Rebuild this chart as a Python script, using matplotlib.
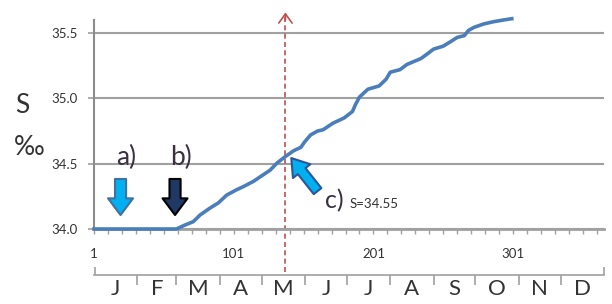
import matplotlib
matplotlib.use("Agg")
import matplotlib.pyplot as plt

plt.rcParams['font.family'] = ['Lato', 'DejaVu Sans']

# salinity curve (day of year, S in per mille)
days = [1, 60, 66, 72, 77, 84, 90, 96, 103, 108, 115, 120, 127, 132, 138, 144,
        149, 152, 156, 161, 165, 172, 180, 186, 188, 191, 197, 205, 210, 213,
        220, 225, 231, 235, 240, 244, 251, 256, 261, 266, 269, 273, 280, 287,
        294, 300]
sal = [34.0, 34.0, 34.03, 34.056, 34.108, 34.16, 34.2, 34.26, 34.3, 34.325,
       34.364, 34.4, 34.45, 34.505, 34.555, 34.6, 34.625, 34.67, 34.72, 34.75,
       34.76, 34.81, 34.85, 34.9, 34.95, 35.01, 35.07, 35.095, 35.146, 35.2,
       35.22, 35.26, 35.287, 35.305, 35.344, 35.377, 35.4, 35.433, 35.467,
       35.48, 35.52, 35.544, 35.57, 35.587, 35.6, 35.61]

yticks = [34.0, 34.5, 35.0, 35.5]
xticks = [1, 101, 201, 301]
months = ['J', 'F', 'M', 'A', 'M', 'J', 'J', 'A', 'S', 'O', 'N', 'D']
month_start = [1, 32, 60, 91, 121, 152, 182, 213, 244, 274, 305, 335, 366]

day_c = 138      # red dashed marker
s_c = 34.55

grey = '#a0a0a0'
txt = '#333333'

fig = plt.figure(figsize=(6.12, 3.04), dpi=100)
ax = fig.add_axes([94/612, 1-229/304, 510/612, 209/304])

ax.plot(days, sal, color='#4a7ebb', lw=2.6, clip_on=False, zorder=3)
ax.set_xlim(1, 366)
ax.set_ylim(34.0, 35.6)

ax.set_yticks(yticks)
ax.set_yticklabels(['%.1f' % v for v in yticks])
ax.set_xticks(xticks)
ax.set_xticks(range(11, 366, 10), minor=True)
ax.tick_params(axis='y', length=4, width=1.2, color=grey, pad=8, labelsize=9.5, labelcolor=txt)
ax.tick_params(axis='x', which='both', length=3.5, width=1, color=grey, pad=10, labelsize=9.5, labelcolor=txt)
ax.grid(axis='y', color=grey, lw=1.5)
for s in ['top', 'right']:
    ax.spines[s].set_visible(False)
ax.spines['left'].set_color('#8c8c8c')
ax.spines['left'].set_linewidth(1.5)
ax.spines['bottom'].set_color(grey)
ax.spines['bottom'].set_linewidth(2)

# red dashed line with open arrow head
trans = ax.get_xaxis_transform()
ax.plot([day_c, day_c], [-0.206, 1.02], transform=trans, color='#c0504d', lw=1.2,
        dashes=(3, 2), clip_on=False, zorder=2)
ax.annotate('', xy=(day_c, 1.036), xytext=(day_c, 1.0), xycoords=trans, textcoords=trans,
            arrowprops=dict(arrowstyle='->,head_length=0.55,head_width=0.4', mutation_scale=12,
                            color='#c0504d', lw=1.2, shrinkA=0, shrinkB=0),
            annotation_clip=False)

# block arrows
def block_arrow(tip, tail, fc, ec, hl=12, hw=18, tw=8):
    ax.annotate('', xy=tip, xytext=tail,
                arrowprops=dict(arrowstyle='simple,head_length=%g,head_width=%g,tail_width=%g' % (hl, hw, tw),
                                mutation_scale=1, fc=fc, ec=ec, lw=1.5, shrinkA=0, shrinkB=0),
                zorder=4)

block_arrow((20, 34.107), (20, 34.383), '#00b0f0', '#41719c')
block_arrow((59, 34.107), (59, 34.383), '#1f3864', '#000000')
block_arrow((142.2, 34.543), (161, 34.29), '#00b0f0', '#2f5597', hl=12, hw=16, tw=7)

ax.text(24, 34.545, 'a)', fontsize=19, color='#3a3040', ha='center', va='center')
ax.text(63.5, 34.545, 'b)', fontsize=19, color='#3a3040', ha='center', va='center')
ax.text(166.5, 34.16, 'c)', fontsize=18, color='#3a3040', ha='left', va='baseline')
ax.text(184, 34.16, 'S=%.2f' % s_c, fontsize=9.5, color=txt, ha='left', va='baseline')

fig.text(15/612, 1-113/304, 'S', fontsize=19, color=txt, ha='left', va='baseline')
fig.text(14/612, 1-155/304, '‰', fontsize=19, color=txt, ha='left', va='baseline')

# month axis
ax2 = fig.add_axes([94/612, 1-275/304, 510/612, 8/304])
ax2.set_xlim(1, 366)
ax2.set_ylim(0, 1)
ax2.patch.set_visible(False)
for s in ['top', 'right', 'left']:
    ax2.spines[s].set_visible(False)
ax2.spines['bottom'].set_color(grey)
ax2.spines['bottom'].set_linewidth(1.2)
ax2.set_yticks([])
ax2.set_xticks(month_start[1:-1])
ax2.set_xticklabels([])
mids = [(month_start[i] + month_start[i+1]) / 2 for i in range(12)]
ax2.set_xticks(mids, minor=True)
ax2.set_xticklabels(months, minor=True)
ax2.tick_params(axis='x', which='major', length=7, width=1.2, color=grey)
ax2.tick_params(axis='x', which='minor', length=0, pad=3, labelsize=16, labelcolor=txt)
ax2.vlines([1.5, 366], 0, 1, color=grey, lw=1.2, clip_on=False)

fig.savefig('out.png', dpi=100)
